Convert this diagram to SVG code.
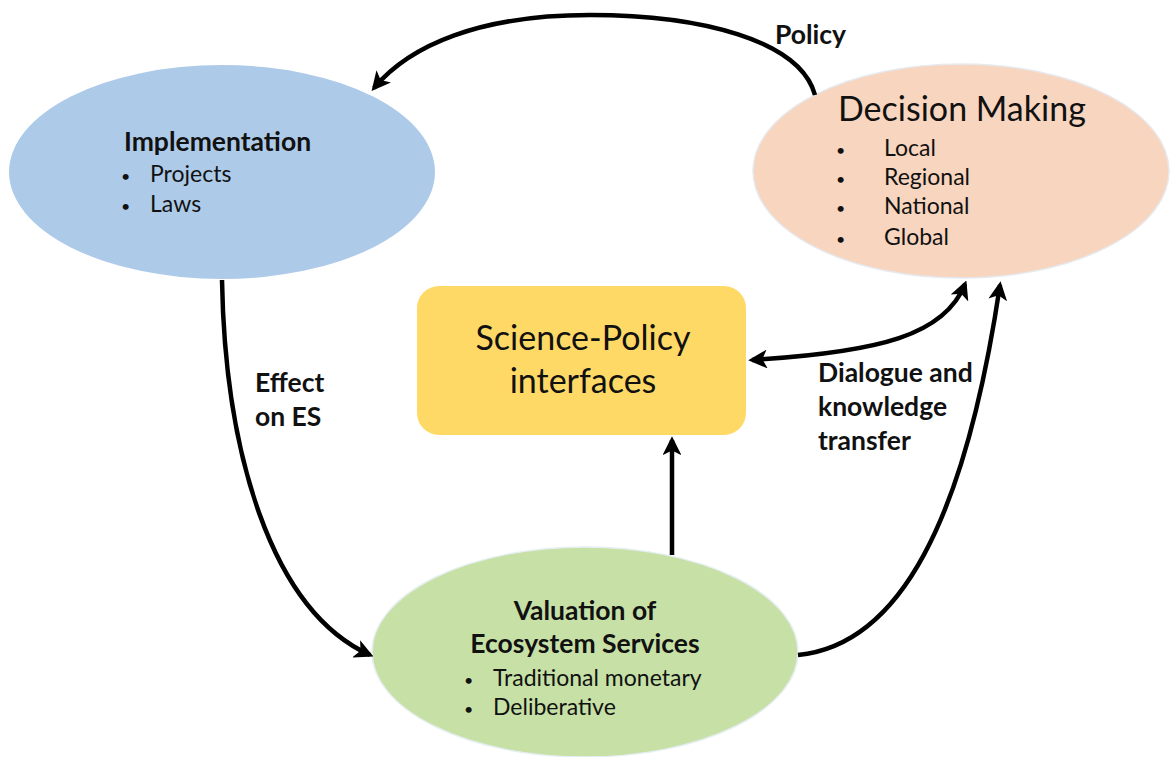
<svg xmlns="http://www.w3.org/2000/svg" width="1170" height="757" viewBox="0 0 1170 757">
<style>
text{font-family:Lato,"Open Sans","Liberation Sans",sans-serif;fill:#111;}
.b{font-weight:bold;font-size:26.5px;}
.li{font-size:23px;}
.bu{font-size:16px;}
.big{font-size:34px;}
.con{fill:none;stroke:#000;stroke-width:4.5;}
</style>
<defs>
<marker id="ah" viewBox="0 0 10 10" refX="8" refY="5" markerWidth="4.2" markerHeight="4.2" markerUnits="strokeWidth" orient="auto-start-reverse">
<path d="M0,0 L10,5 L0,10 L2.5,5 z" fill="#000"/>
</marker>
</defs>
<rect width="1170" height="757" fill="#fff"/>
<g id="implementation">
<ellipse cx="222" cy="172" rx="213" ry="107" fill="#ADCBE9"/>
<text class="b" x="124" y="151">Implementation</text>
<text class="bu" x="121" y="182">•</text><text class="li" x="150" y="182">Projects</text>
<text class="bu" x="121" y="212">•</text><text class="li" x="150" y="212">Laws</text>
</g>
<g id="decision">
<ellipse cx="961" cy="171" rx="208" ry="107" fill="#F8D5BF" stroke="#e6e9ee" stroke-width="1.5"/>
<text class="big" x="838" y="121">Decision Making</text>
<text class="bu" x="836" y="156">•</text><text class="li" x="884" y="156">Local</text>
<text class="bu" x="836" y="185">•</text><text class="li" x="884" y="185">Regional</text>
<text class="bu" x="836" y="214">•</text><text class="li" x="884" y="214">National</text>
<text class="bu" x="836" y="245">•</text><text class="li" x="884" y="245">Global</text>
</g>
<g id="spi">
<rect x="417" y="286" width="329" height="149" rx="22" fill="#FFD966"/>
<text class="big" x="583" y="350" text-anchor="middle">Science-Policy</text>
<text class="big" x="583" y="393" text-anchor="middle">interfaces</text>
</g>
<g id="valuation">
<ellipse cx="585" cy="652" rx="213" ry="105" fill="#C6E0A6" stroke="#e6eef2" stroke-width="1.5"/>
<text class="b" x="585" y="620" text-anchor="middle">Valuation of</text>
<text class="b" x="585" y="653" text-anchor="middle">Ecosystem Services</text>
<text class="bu" x="464" y="686">•</text><text class="li" x="493" y="686">Traditional monetary</text>
<text class="bu" x="464" y="715">•</text><text class="li" x="493" y="715">Deliberative</text>
</g>
<g id="connectors">
<path class="con" marker-end="url(#ah)" d="M815,95 C800,40 700,15 590,15 C480,15 410,45 374,88"/>
<path class="con" marker-end="url(#ah)" d="M222,280 C225,450 270,610 370,655"/>
<path class="con" marker-end="url(#ah)" d="M672,555 L672,440"/>
<path class="con" marker-end="url(#ah)" d="M798,655 C900,645 965,520 1000,285"/>
<path class="con" marker-start="url(#ah)" marker-end="url(#ah)" d="M752,360 C880,352 945,335 965,284"/>
</g>
<g id="labels">
<text class="b" x="775" y="44">Policy</text>
<text class="b" x="255" y="392">Effect</text>
<text class="b" x="255" y="426">on ES</text>
<text class="b" x="818" y="382">Dialogue and</text>
<text class="b" x="818" y="416">knowledge</text>
<text class="b" x="818" y="450">transfer</text>
</g>
</svg>
